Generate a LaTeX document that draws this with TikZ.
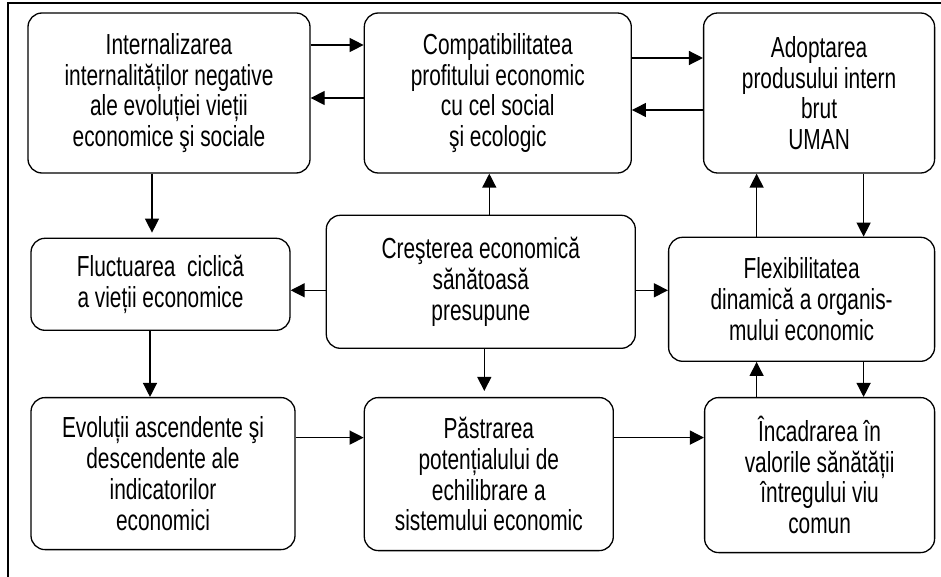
\documentclass[tikz,border=0pt]{standalone}
\usepackage{fontspec}
\newfontfamily\boxfont[FakeStretch=0.72]{Liberation Sans}
\usetikzlibrary{positioning,arrows.meta}

\begin{document}
\begin{tikzpicture}[x=1pt,y=-1pt,box/.style={draw,line width=1.3pt,rounded corners=14pt,align=center,inner sep=0pt,font=\boxfont\fontsize{29}{30.7}\selectfont},link/.style={line width=1.3pt,-{Triangle[length=14pt,width=14pt]}}]
	\useasboundingbox (0,0) rectangle (941,577);
	\draw[line width=1.3pt] (941,3) -- (8,3) -- (8,577);

	\node[box,minimum width=282pt,minimum height=160pt] at (169,93)		(1)	{Internalizarea\\internalităților negative\\ale evoluției vieții\\economice şi sociale};
	\node[box,minimum width=267pt,minimum height=160pt,right=53pt of 1]	(2)	{Compatibilitatea\\profitului economic\\cu cel social\\şi ecologic};
	\node[box,minimum width=231pt,minimum height=160pt,right=71pt of 2]	(3)	{Adoptarea\\produsului intern\\brut\\UMAN};

	\node[box,minimum width=259pt,minimum height=92pt,below=64pt of 1,xshift=-8.5pt]	(4)	{Fluctuarea\ \ ciclică\\a vieții economice};
	\node[box,minimum width=309pt,minimum height=133pt,below=41pt of 2,xshift=-17pt]	(5)	{Creşterea economică\\sănătoasă\\presupune};
	\node[box,minimum width=266pt,minimum height=124pt,below=63pt of 3,xshift=-17.5pt]	(6)	{Flexibilitatea\\dinamică a organis-\\mului economic};

	\node[box,minimum width=264pt,minimum height=152pt,below=66pt of 4,xshift=2.5pt]	(7)	{Evoluții ascendente şi\\descendente ale\\indicatorilor\\economici};
	\node[box,minimum width=249pt,minimum height=153pt,below=48pt of 5,xshift=8pt]		(8)	{Păstrarea\\potențialului de\\echilibrare a\\sistemului economic};
	\node[box,minimum width=230pt,minimum height=155pt,below=35pt of 6,xshift=18pt]		(9)	{Încadrarea în\\valorile sănătății\\întregului viu\\comun};

	\draw[link] ([yshift=48pt]1.east) -- ([yshift=48pt]2.west);
	\draw[link] ([yshift=-5pt]2.west) -- ([yshift=-5pt]1.east);
	\draw[link] ([yshift=35pt]2.east) -- ([yshift=35pt]3.west);
	\draw[link] ([yshift=-17pt]3.west) -- ([yshift=-17pt]2.east);

	\draw[link,shorten >=5pt] ([xshift=-17pt]1.south) -- ([xshift=-17pt]1.south |- 4.north);
	\draw[link] ([xshift=-10.5pt]4.south) -- ([xshift=-10.5pt]4.south |- 7.north);

	\draw[link] ([xshift=8.5pt]5.north) -- ([xshift=8.5pt]5.north |- 2.south);
	\draw[link] ([yshift=-8.5pt]5.west) -- ([yshift=-8.5pt]5.west -| 4.east);
	\draw[link] ([yshift=-8.5pt]5.east) -- ([yshift=-8.5pt]5.east -| 6.west);
	\draw[link,shorten >=6pt] ([xshift=3.5pt]5.south) -- ([xshift=3.5pt]5.south |- 8.north);

	\draw[link] ([xshift=-45pt]6.north) -- ([xshift=-45pt]6.north |- 3.south);
	\draw[link] ([xshift=62pt]6.north |- 3.south) -- ([xshift=62pt]6.north);
	\draw[link] ([xshift=-45pt]6.south |- 9.north) -- ([xshift=-45pt]6.south);
	\draw[link] ([xshift=62pt]6.south) -- ([xshift=62pt]6.south |- 9.north);

	\draw[link] ([yshift=36pt]7.east) -- ([yshift=36pt]7.east -| 8.west);
	\draw[link] ([yshift=36.5pt]8.east) -- ([yshift=36.5pt]8.east -| 9.west);
\end{tikzpicture}
\end{document}
